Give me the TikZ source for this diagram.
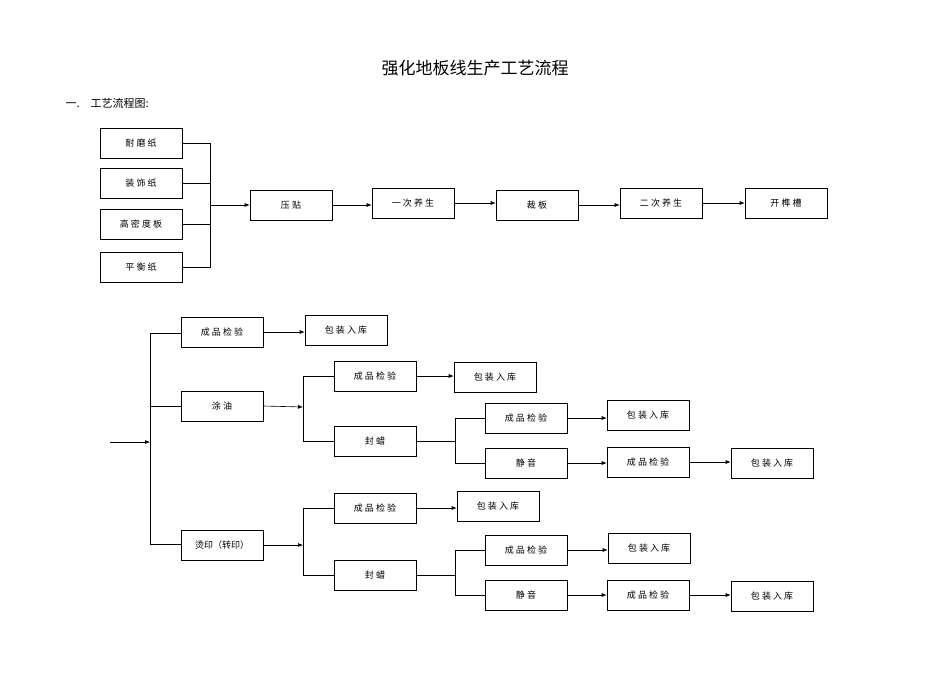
\documentclass[tikz,border=0pt]{standalone}
\usepackage{fontspec}
\newfontfamily\cjk{Noto Sans CJK SC}
\usetikzlibrary{arrows.meta}
\begin{document}
\begin{tikzpicture}[x=1pt,y=-1pt,
 box/.style={draw,line width=0.6pt,minimum width=82pt,minimum height=30pt,inner sep=0pt,font=\cjk\fontsize{9}{9}\selectfont},
 ln/.style={line width=0.6pt},
 ar/.style={line width=0.6pt,-{Latex[length=5pt,width=4pt]}}]
\useasboundingbox (0,0) rectangle (950,672);
\node[font=\cjk\fontsize{17}{17}\selectfont] (title) at (475,68) {强化地板线生产工艺流程};
\node[anchor=west,font=\cjk\fontsize{11}{11}\selectfont] (sub) at (62,103) {一.\quad 工艺流程图:};
% top row
\node[box] (a1) at (141,143) {耐 磨 纸};
\node[box] (a2) at (141,183) {装 饰 纸};
\node[box] (a3) at (141,224) {高 密 度 板};
\node[box] (a4) at (141,267) {平 衡 纸};
\coordinate (j1) at (210,143); \coordinate (j4) at (210,267); \coordinate (jm) at (210,205);
\draw[ln] (a1.east) -- (j1) -- (j4) -- (a4.east);
\draw[ln] (a2.east) -- (a2.east-|jm);
\draw[ln] (a3.east) -- (a3.east-|jm);
\node[box] (b1) at (291,205) {压 贴};
\node[box] (b2) at (413,203) {一 次 养 生};
\node[box] (b3) at (537,205) {裁 板};
\node[box] (b4) at (661,203) {二 次 养 生};
\node[box] (b5) at (786,203) {开 榫 槽};
\draw[ar] (jm) -- (b1.west);
\draw[ar] (b1.east) -- (b2.west|-b1.east);
\draw[ar] (b2.east) -- (b3.west|-b2.east);
\draw[ar] (b3.east) -- (b4.west|-b3.east);
\draw[ar] (b4.east) -- (b5.west);
% bottom
\coordinate (s0) at (110,442); \coordinate (s1) at (150,442);
\coordinate (v1) at (150,333); \coordinate (v2) at (150,544);
\draw[ar] (s0) -- (s1);
\draw[ln] (v1) -- (v2);
\node[box] (c1) at (222,332) {成 品 检 验};
\node[box] (c2) at (222,406) {涂 油};
\node[box] (c3) at (222,545) {烫印（转印）};
\draw[ln] (v1) -- (c1.west|-v1);
\draw[ln] (150,406) -- (c2.west);
\draw[ln] (v2) -- (c3.west|-v2);
\node[box] (d1) at (346,330) {包 装 入 库};
\draw[ar] (c1.east) -- (d1.west|-c1.east);
% 涂油 branch
\coordinate (t0) at (303,407);
\draw[ar] (c2.east) -- (t0);
\node[box] (e1) at (375,376) {成 品 检 验};
\node[box] (e2) at (375,441) {封 蜡};
\draw[ln] (e1.west) -- (e1.west-|t0) -- (e2.west-|t0) -- (e2.west);
\node[box] (e3) at (495,377) {包 装 入 库};
\draw[ar] (e1.east) -- (e3.west|-e1.east);
\coordinate (u0) at (455,441);
\draw[ln] (e2.east) -- (u0);
\node[box] (f1) at (526,418) {成 品 检 验};
\node[box] (f2) at (526,463) {静 音};
\draw[ln] (f1.west) -- (f1.west-|u0) -- (f2.west-|u0) -- (f2.west);
\node[box] (f3) at (648,415) {包 装 入 库};
\draw[ar] (f1.east) -- (f3.west|-f1.east);
\node[box] (f4) at (648,462) {成 品 检 验};
\draw[ar] (f2.east) -- (f4.west|-f2.east);
\node[box] (f5) at (772,463) {包 装 入 库};
\draw[ar] (f4.east) -- (f5.west|-f4.east);
% 烫印 branch
\coordinate (t1) at (303,545);
\draw[ar] (c3.east) -- (t1);
\node[box] (g1) at (375,508) {成 品 检 验};
\node[box] (g2) at (375,575) {封 蜡};
\draw[ln] (g1.west) -- (g1.west-|t1) -- (g2.west-|t1) -- (g2.west);
\node[box] (g3) at (498,506) {包 装 入 库};
\draw[ar] (g1.east) -- (g3.west|-g1.east);
\coordinate (u1) at (455,575);
\draw[ln] (g2.east) -- (u1);
\node[box] (h1) at (526,550) {成 品 检 验};
\node[box] (h2) at (526,595) {静 音};
\draw[ln] (h1.west) -- (h1.west-|u1) -- (h2.west-|u1) -- (h2.west);
\node[box] (h3) at (649,548) {包 装 入 库};
\draw[ar] (h1.east) -- (h3.west|-h1.east);
\node[box] (h4) at (648,595) {成 品 检 验};
\draw[ar] (h2.east) -- (h4.west|-h2.east);
\node[box] (h5) at (772,596) {包 装 入 库};
\draw[ar] (h4.east) -- (h5.west|-h4.east);
\end{tikzpicture}
\end{document}
